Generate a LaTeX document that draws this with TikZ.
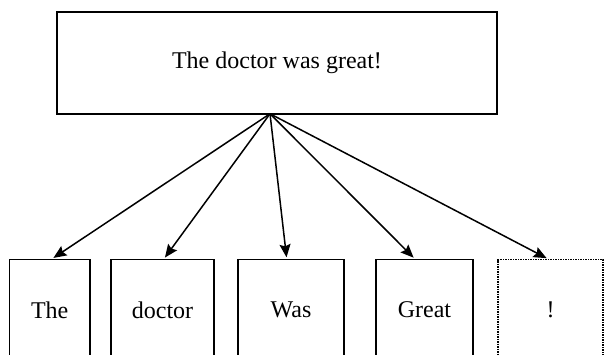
\documentclass[tikz,border=0pt]{standalone}
\usepackage{fontspec}
\setmainfont{Liberation Serif}
\usepackage{tikz}
\usetikzlibrary{calc}
\usetikzlibrary {arrows.meta}
\begin{document}
\begin{tikzpicture}[x=1pt,y=-1pt,line width=1.5pt,font=\fontsize{24}{28}\selectfont]
\tikzstyle{sbox}=[draw,shape=rectangle,inner sep=0pt,minimum width=440pt,minimum height=102pt]
\tikzstyle{wbox}=[draw,shape=rectangle,inner sep=0pt,minimum height=101pt]
\tikzstyle{arr}=[-{Stealth[length=13pt,width=11pt,inset=2pt]},shorten >=1.5pt]
\clip (0,0) rectangle (605,354);

\node[sbox](s) at (277,63){The doctor was great!};
%
\node[wbox,minimum width=80.7pt](w1) at (49.7,310){The};
\node[wbox,minimum width=103pt](w2) at (162.5,310){doctor};
\node[wbox,minimum width=106pt](w3) at (291,310){Was};
\node[wbox,minimum width=97pt](w4) at (424.5,310){Great};
\node[wbox,minimum width=105pt,dash pattern=on 1.5pt off 1pt,line width=1.3pt](w5) at (550.5,310){!};
%
\coordinate (fan) at ($(s.south)+(-7,-1)$);
\draw[arr] (fan) -- ($(w1.north west)!0.53!(w1.north east)$);
\draw[arr] (fan) -- ($(w2.north west)!0.515!(w2.north east)$);
\draw[arr] (fan) -- ($(w3.north west)!0.46!(w3.north east)$);
\draw[arr] (fan) -- ($(w4.north west)!0.40!(w4.north east)$);
\draw[arr] (fan) -- ($(w5.north west)!0.476!(w5.north east)$);
\end{tikzpicture}
\end{document}
